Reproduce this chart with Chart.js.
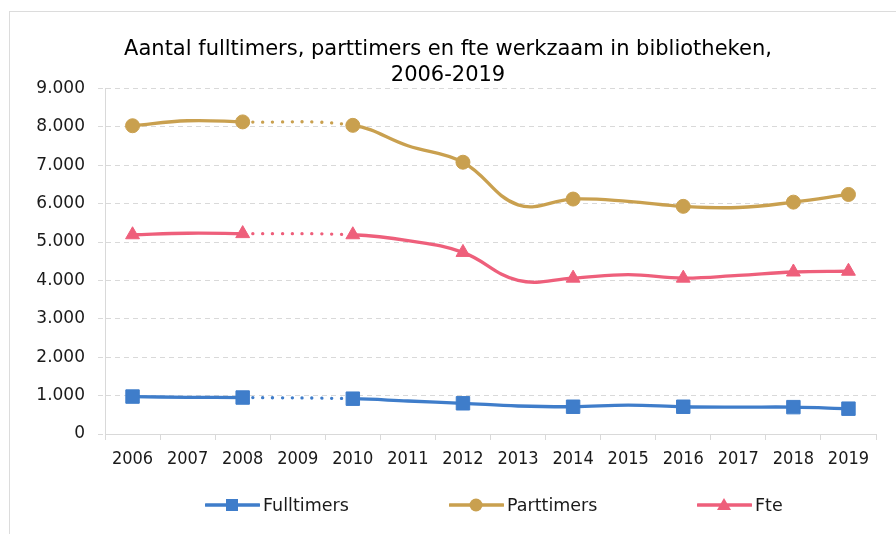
<!DOCTYPE html>
<html lang="nl">
<head>
<meta charset="utf-8">
<title>Bibliotheken personeel 2006-2019</title>
<script src="https://cdn.jsdelivr.net/npm/chart.js@4.4.1/dist/chart.umd.min.js"></script>
<style>
  html, body { margin: 0; padding: 0; background: #fff; }
  #wrap { position: relative; width: 896px; height: 534px; overflow: hidden; }
  #frame { position: absolute; left: 9px; top: 11px; right: 0; bottom: 0;
           border-left: 1px solid #dcdcdc; border-top: 1px solid #dcdcdc; }
  #legend { position: absolute; top: 493px; left: 0; width: 896px; height: 24px;
            font-family: "DejaVu Sans", sans-serif; font-size: 17.5px; color: #1a1a1a; }
  .item { position: absolute; top: 0; height: 24px; display: flex; align-items: center; }
  .item svg { margin-right: 3px; }
</style>
</head>
<body>
<div id="wrap">
  <div id="frame"></div>
  <canvas id="grafiek"></canvas>
  <div id="legend"></div>
</div>
<script>
// jaren op de x-as; 2009 ontbreekt
const jaren = ['2006','2007','2008','2009','2010','2011','2012','2013','2014','2015','2016','2017','2018','2019'];
const fulltimers = [975, 955, 950, null, 920, 860, 800, 730, 710, 750, 710, 700, 700, 660];
const parttimers = [8030, 8160, 8130, null, 8040, 7510, 7080, 5970, 6120, 6060, 5930, 5900, 6040, 6240];
const fte        = [5190, 5230, 5220, null, 5190, 5040, 4730, 4000, 4060, 4150, 4060, 4130, 4220, 4240];
// alleen deze jaren krijgen een marker
const markerJaren = ['2006','2008','2010','2012','2014','2016','2018','2019'];
const yTicks = [0, 1000, 2000, 3000, 4000, 5000, 6000, 7000, 8000, 9000];

const titel = ['Aantal fulltimers, parttimers en fte werkzaam in bibliotheken,', '2006-2019'];
const reeksen = [
  { naam: 'Fulltimers', data: fulltimers, kleur: '#3f7dca', vorm: 'rect', r: 9.5 },
  { naam: 'Parttimers', data: parttimers, kleur: '#c9a04f', vorm: 'circle', r: 7 },
  { naam: 'Fte', data: fte, kleur: '#ee5f7b', vorm: 'triangle', r: 8 }
];

// 2008 -> 2010 gestippeld over het gat
const isGat = ctx => ctx.p0DataIndex >= 2 && ctx.p1DataIndex <= 4;

// duizendtallen met punt
const fmt = v => String(v).replace(/\B(?=(\d{3})+(?!\d))/g, '.');

const datasets = reeksen.map(s => {
  const rad = ctx => markerJaren.includes(jaren[ctx.dataIndex]) ? s.r : 0;
  return {
    label: s.naam,
    data: s.data,
    borderColor: s.kleur,
    backgroundColor: s.kleur,
    borderWidth: 3.3,
    pointStyle: s.vorm,
    pointRadius: rad,
    pointHoverRadius: rad,
    pointBorderWidth: ctx => rad(ctx) ? 1 : 0,
    pointBackgroundColor: s.kleur,
    pointBorderColor: s.kleur,
    tension: 0.4,
    spanGaps: true,
    segment: {
      borderDash: ctx => isGat(ctx) ? [0.1, 9.8] : undefined,
      borderCapStyle: ctx => isGat(ctx) ? 'round' : 'butt'
    }
  };
});

const grid = '#d9d9d9';

new Chart(document.getElementById('grafiek'), {
  type: 'line',
  data: { labels: jaren, datasets },
  options: {
    responsive: true,
    maintainAspectRatio: false,
    animation: false,
    layout: { padding: { left: 20, right: 20, top: 0, bottom: 60 } },
    plugins: {
      legend: { display: false },
      tooltip: { enabled: false },
      title: {
        display: true,
        text: titel,
        color: '#000',
        font: { family: 'DejaVu Sans', size: 21, weight: 'normal', lineHeight: 1.25 },
        padding: { top: 36, bottom: 0 }
      }
    },
    scales: {
      x: {
        offset: true,
        grid: { offset: true, drawOnChartArea: false, drawTicks: true, tickLength: 6, color: grid },
        border: { color: grid },
        ticks: {
          autoSkip: false, maxRotation: 0, padding: 9, color: '#1a1a1a',
          font: { family: '"DejaVu Sans Condensed", "DejaVu Sans", sans-serif', size: 18 }
        },
        afterFit: sc => { sc.height = 40; }
      },
      y: {
        min: 0, max: 9000,
        afterBuildTicks: sc => { sc.ticks = yTicks.map(v => ({ value: v })); },
        grid: { color: grid, tickLength: 7, tickBorderDash: [5, 4] },
        border: { color: grid, dash: [5, 4] },
        ticks: {
          padding: 13, color: '#1a1a1a',
          font: { family: 'DejaVu Sans', size: 17 },
          callback: v => fmt(v)
        },
        afterFit: sc => { sc.width = 85; }
      }
    }
  }
});

// legenda in html, lijn + marker per reeks
const legPos = [205, 449, 697];
const legNode = document.getElementById('legend');
reeksen.forEach((s, i) => {
  let marker = '';
  if (s.vorm === 'rect') marker = `<rect x="21" y="6" width="12" height="12" fill="${s.kleur}"/>`;
  else if (s.vorm === 'circle') marker = `<circle cx="27" cy="12" r="6.5" fill="${s.kleur}"/>`;
  else marker = `<polygon points="27,5 34,17 20,17" fill="${s.kleur}"/>`;
  const el = document.createElement('div');
  el.className = 'item';
  el.style.left = legPos[i] + 'px';
  el.innerHTML = `<svg width="55" height="24"><line x1="1" y1="12" x2="54" y2="12" stroke="${s.kleur}" stroke-width="3.5" stroke-linecap="round"/>${marker}</svg><span>${s.naam}</span>`;
  legNode.appendChild(el);
});
</script>
</body>
</html>
